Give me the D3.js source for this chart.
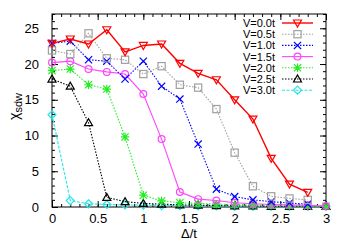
<!DOCTYPE html>
<html>
<head>
<meta charset="utf-8">
<script src="https://cdn.jsdelivr.net/npm/d3@7"></script>
<style>
  body { margin: 0; background: #fff; }
  text { font-family: "Liberation Sans", Arial, sans-serif; }
  .domain { display: none; }
</style>
</head>
<body>
<div id="chart"></div>
<script>
// Delta/t values and chi_sdw for each V
var delta = [0, 0.2, 0.4, 0.6, 0.8, 1.0, 1.2, 1.4, 1.6, 1.8, 2.0, 2.2, 2.4, 2.6, 2.8, 3.0];
var v00 = [22.9, 23.5, 22.8, 24.8, 21.7, 22.6, 22.8, 20.1, 18.7, 17.8, 15.0, 12.3, 6.8, 3.2, 2.05];
var v05 = [21.9, 21.4, 24.3, 20.8, 20.6, 18.6, 19.7, 17.1, 16.7, 13.7, 7.6, 2.9, 1.5, 1.2, 1.0];
var v10 = [22.9, 23.2, 20.6, 20.4, 17.9, 20.4, 16.9, 15.1, 8.8, 2.5, 1.45, 1.0, 0.75, 0.55, 0.4];
var v15 = [20.2, 20.4, 19.3, 18.9, 18.6, 15.8, 9.5, 2.1, 1.1, 0.9, 0.6, 0.45, 0.35, 0.3, 0.25, 0.15];
var v20 = [19.1, 19.3, 17.1, 16.5, 9.8, 1.65, 0.85, 0.6, 0.5, 0.4, 0.35, 0.3, 0.25, 0.2, 0.15, 0.1];
var v25 = [17.9, 16.9, 11.8, 1.35, 0.75, 0.5, 0.4, 0.3, 0.25, 0.2, 0.15, 0.15, 0.1, 0.1, 0.1, 0.1];
var v30 = [12.9, 0.9, 0.45, 0.35, 0.3, 0.25, 0.2, 0.2, 0.15, 0.15, 0.1, 0.1, 0.1, 0.1, 0.1, 0.1];
var labels = ['V=0.0t', 'V=0.5t', 'V=1.0t', 'V=1.5t', 'V=2.0t', 'V=2.5t', 'V=3.0t'];
var xTicks = [0, 0.5, 1, 1.5, 2, 2.5, 3];
var yTicks = [0, 5, 10, 15, 20, 25];

// styles, one per series
var colors = ['#ff0000', '#a0a0a0', '#0000ff', '#ff44ff', '#22ee22', '#000000', '#22e6e6'];
var dashes = [null, '1.5,1.5', '1.5,1.5', null, '1.5,1.5', '1.5,1.5', '3,1.5'];
var markers = ['tridown', 'square', 'cross', 'circle', 'star', 'triup', 'diamond'];

var series = [v00, v05, v10, v15, v20, v25, v30];

var W = 346, H = 242,
    margin = { top: 14, right: 20, bottom: 35, left: 52 },
    width = W - margin.left - margin.right,
    height = H - margin.top - margin.bottom;

var svg = d3.select('#chart').append('svg')
  .attr('width', W)
  .attr('height', H)
  .style('display', 'block');

var g = svg.append('g')
  .attr('transform', 'translate(' + margin.left + ',' + margin.top + ')');

var x = d3.scaleLinear().domain([0, 3]).range([0, width]);
var y = d3.scaleLinear().domain([0, 27]).range([height, 0]);

var xMinor = d3.range(0, 3.0001, 0.1);
var yMinor = d3.range(0, 27.0001, 1);

//minor ticks on all four sides, pointing inward
g.append('g').attr('transform', 'translate(0,' + height + ')')
  .call(d3.axisBottom(x).tickValues(xMinor).tickSize(-3).tickFormat(''));
g.append('g')
  .call(d3.axisTop(x).tickValues(xMinor).tickSize(-3).tickFormat(''));
g.append('g')
  .call(d3.axisLeft(y).tickValues(yMinor).tickSize(-3).tickFormat(''));
g.append('g').attr('transform', 'translate(' + width + ',0)')
  .call(d3.axisRight(y).tickValues(yMinor).tickSize(-3).tickFormat(''));

//major ticks
g.append('g').attr('transform', 'translate(0,' + height + ')')
  .call(d3.axisBottom(x).tickValues(xTicks).tickSize(-6).tickPadding(7)
    .tickFormat(function (d) { return d; }))
  .selectAll('text').style('font-size', '13px').attr('fill', '#000');
g.append('g')
  .call(d3.axisTop(x).tickValues(xTicks).tickSize(-6).tickFormat(''));
g.append('g')
  .call(d3.axisLeft(y).tickValues(yTicks).tickSize(-6).tickPadding(13))
  .selectAll('text').style('font-size', '13px').attr('fill', '#000');
g.append('g').attr('transform', 'translate(' + width + ',0)')
  .call(d3.axisRight(y).tickValues(yTicks).tickSize(-6).tickFormat(''));

g.selectAll('.tick line').attr('stroke', '#000');

//frame
g.append('rect')
  .attr('width', width)
  .attr('height', height)
  .attr('fill', 'none')
  .attr('stroke', '#000')
  .attr('stroke-width', 1);

function drawMarker(sel, type, color) {
  var s = 3.6;
  if (type === 'circle') {
    sel.append('circle').attr('r', 3.4);
  } else if (type === 'square') {
    sel.append('rect').attr('x', -s).attr('y', -s).attr('width', 2 * s).attr('height', 2 * s);
  } else if (type === 'tridown') {
    sel.append('path').attr('d', 'M-4,-3L4,-3L0,4Z');
  } else if (type === 'triup') {
    sel.append('path').attr('d', 'M-4,3L4,3L0,-4Z');
  } else if (type === 'cross') {
    sel.append('path').attr('d', 'M-3.6,-3.6L3.6,3.6M-3.6,3.6L3.6,-3.6');
  } else if (type === 'star') {
    sel.append('path').attr('d', 'M-3.6,-3.6L3.6,3.6M-3.6,3.6L3.6,-3.6M-4.2,0L4.2,0M0,-4.2L0,4.2');
  } else if (type === 'diamond') {
    sel.append('path').attr('d', 'M0,-4L4,0L0,4L-4,0Z');
  }
  sel.selectAll('*')
    .attr('fill', 'none')
    .attr('stroke', color)
    .attr('stroke-width', 1.2);
}

var line = d3.line()
  .x(function (d, i) { return x(delta[i]); })
  .y(function (d) { return y(d); });

//draw the series from last to first so red sits on top
for (var k = series.length - 1; k >= 0; k--) {
  var sg = g.append('g');
  sg.append('path')
    .datum(series[k])
    .attr('d', line)
    .attr('fill', 'none')
    .attr('stroke', colors[k])
    .attr('stroke-width', k === 0 ? 1.4 : 1.1)
    .attr('stroke-dasharray', dashes[k]);
  sg.selectAll('.pt')
    .data(series[k])
    .enter().append('g')
      .attr('transform', function (d, i) { return 'translate(' + x(delta[i]) + ',' + y(d) + ')'; })
      .each(function () { drawMarker(d3.select(this), markers[k], colors[k]); });
}

//legend
var legend = g.append('g');
labels.forEach(function (lab, i) {
  var ly = 9 + i * 11.2;
  legend.append('text')
    .attr('x', 223)
    .attr('y', ly + 4)
    .attr('text-anchor', 'end')
    .style('font-size', '11px')
    .text(lab);
  legend.append('line')
    .attr('x1', 230).attr('x2', 261)
    .attr('y1', ly).attr('y2', ly)
    .attr('stroke', colors[i])
    .attr('stroke-width', i === 0 ? 1.4 : 1.1)
    .attr('stroke-dasharray', dashes[i]);
  var mk = legend.append('g').attr('transform', 'translate(245.5,' + ly + ')');
  drawMarker(mk, markers[i], colors[i]);
});

//axis labels
svg.append('text')
  .attr('x', margin.left + x(1.5))
  .attr('y', 238)
  .attr('text-anchor', 'middle')
  .style('font-size', '13px')
  .text('\u0394/t');

var yl = svg.append('text')
  .attr('transform', 'translate(19,' + (margin.top + height / 2 - 4) + ') rotate(-90)')
  .attr('text-anchor', 'middle')
  .style('font-size', '14px');
yl.append('tspan').text('\u03c7');
yl.append('tspan').attr('dy', 3).style('font-size', '11px').text('sdw');
</script>
</body>
</html>
